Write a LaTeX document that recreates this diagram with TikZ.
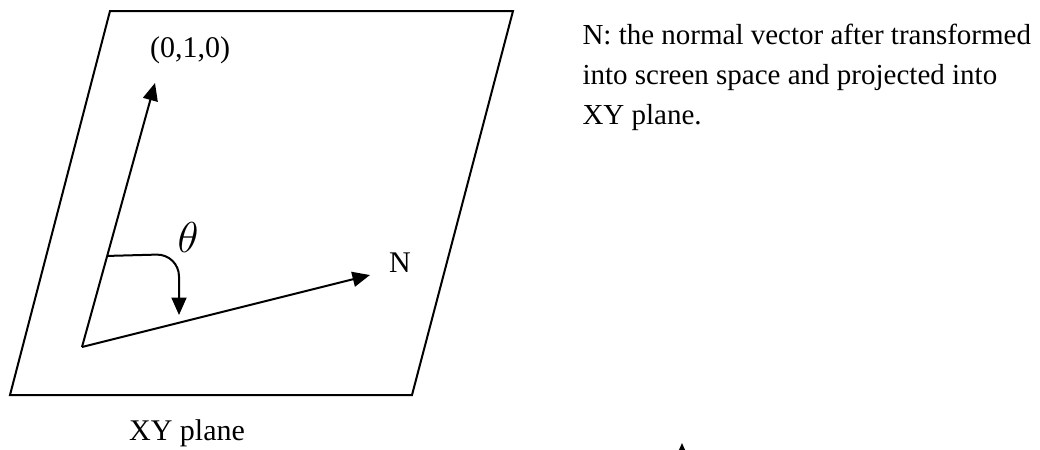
\documentclass[tikz,border=0pt]{standalone}
\usepackage{fontspec}
\setmainfont{Liberation Serif}
\usetikzlibrary{arrows.meta,calc}

\begin{document}
\begin{tikzpicture}[
	x=0.4pt, y=-0.4pt,
	vec/.style={ line width=0.8pt, -{Triangle[length=7pt,width=6pt]} },
	edge/.style={ line width=0.8pt },
	lbl/.style={ inner sep=0pt, font=\fontsize{12}{16}\selectfont }
]
\clip (0,0) rectangle (1040,449);
\useasboundingbox (0,0) rectangle (1040,449);

% the plane
\coordinate (tl) at (110,11);
\coordinate (tr) at (513,11);
\coordinate (br) at (412,395);
\coordinate (bl) at (10,395);
\draw[edge] (tl) -- (tr) -- (br) -- (bl) -- cycle;

% vectors
\coordinate (o) at (82,347);
\coordinate (up) at (155,83);
\coordinate (nrm) at (370,275);
\draw[vec] (o) to (up);
\draw[vec] (o) to (nrm);

% angle
\coordinate (a0) at ($(o)!0.345!(up)$);
\coordinate (a1) at (179,254);
\coordinate (a2) at (179,315);
\draw[vec, rounded corners=9pt] (a0) -- (a1) -- (a2);

\node at (190,50) (yaxis) [lbl] {(0,1,0)};
\node at (400,272) (nlabel) [lbl, anchor=base] {N};
\node at (188,237) (theta) [lbl, font=\fontsize{16}{16}\selectfont] {$\theta$};
\node at (187,440) (plane) [lbl, anchor=base] {XY plane};
\node at (582,124) (note) [lbl, anchor=base west, align=left,
	font=\fontsize{11.6}{16}\selectfont]
	{N: the normal vector after transformed\\
	 into screen space and projected into\\
	 XY plane.};

% cut off arrow at the bottom
\coordinate (tail) at (682,490);
\coordinate (head) at (682,443);
\draw[vec] (tail) to (head);

\end{tikzpicture}
\end{document}
